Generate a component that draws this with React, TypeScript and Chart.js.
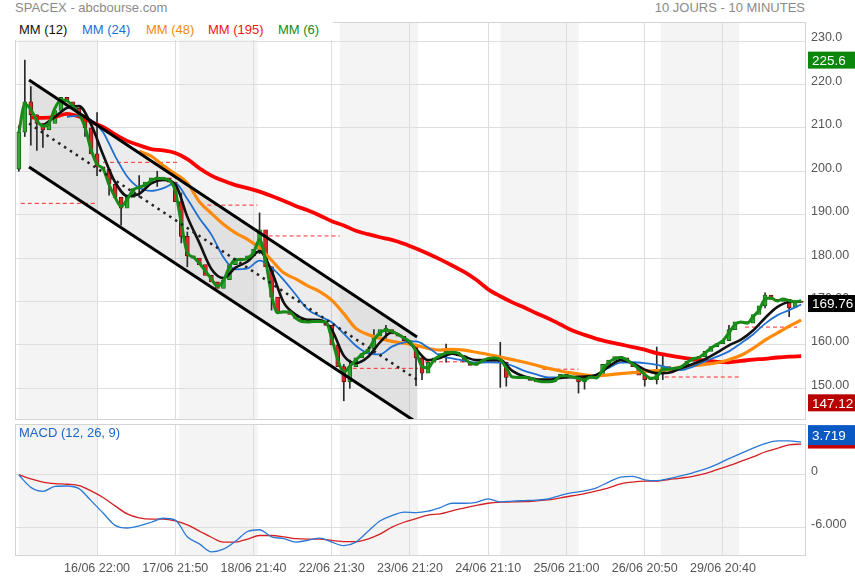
import React, { useEffect, useRef } from 'react';
import { Chart, registerables } from 'chart.js';

Chart.register(...registerables);

const FONT = '"Liberation Sans", Arial, sans-serif';

// x values are 10-minute bar indexes, 40 bars per session
const X_MIN = -1.9;
const X_MAX = 392.4;
const BARS_PER_SESSION = 40;
const SHADED_SESSIONS = [0, 2, 4, 6, 8];
const GRID_BARS = [39, 78, 117, 156, 195, 234, 273, 312, 351];
const GRID_LABELS = [
    '16/06 22:00', '17/06 21:50', '18/06 21:40', '22/06 21:30', '23/06 21:20',
    '24/06 21:10', '25/06 21:00', '26/06 20:50', '29/06 20:40',
];

const PRICE_MIN = 142.7;
const PRICE_MAX = 234.38;
const PRICE_TICKS = [150, 160, 170, 180, 190, 200, 210, 220, 230];
const MACD_MIN = -9.17;
const MACD_MAX = 5.77;
const MACD_TICKS = [-6, 0];

// candles, one every 3 bars
const CANDLE_STEP = 3;
const firstOpen = 200.5;
const closes = [
    209, 216, 213, 211, 209.5, 211, 214, 217, 216, 214.5,
    213, 210, 204, 201, 200.5, 197, 194, 191.5, 194, 196,
    196.5, 197.5, 198.5, 198.3, 198.5, 197.5, 193, 185, 180.5, 180,
    178.5, 176, 174.5, 173, 175, 178.5, 180, 179.5, 180.5, 182,
    186.5, 178, 171, 167.5, 167.5, 167, 166, 165.5, 165.3, 165.5,
    165.3, 164.5, 160, 155, 151.5, 155, 157, 158, 159, 162,
    163.5, 163.5, 162.5, 162, 161, 160, 157, 153.5, 156, 157,
    158, 158.5, 158.3, 157.5, 156, 155.3, 156, 156.5, 157, 157,
    156, 152.5, 152.5, 152.8, 152.3, 151.8, 151.5, 151.3, 151.5, 152.5,
    153.2, 152.6, 152.4, 151.5, 152.3, 152.6, 152.8, 155.5, 156.5, 157.3,
    157, 156, 155, 153, 152, 152, 153.5, 155, 154, 154.8,
    155, 156.2, 157, 157.3, 158.5, 159.6, 160.3, 161, 163.5, 165.3,
    165, 165, 167, 169, 171.5, 170.5, 170, 170.5, 168.5, 170,
    169.76,
];
// [candle, low, high]
const wicks: [number, number, number][] = [
    [0, 200, 210.5], [1, 208, 225.6], [2, 206, 219.5], [3, 204.8, 213], [4, 205.5, 211],
    [11, 208, 212], [13, 199, 213.5], [15, 194.5, 199], [17, 187.6, 193], [20, 194, 199],
    [23, 196.5, 200], [27, 183.5, 195], [28, 178, 186], [40, 181, 190.4], [42, 168, 178],
    [54, 147.12, 155.5], [55, 150, 156.5], [59, 158, 163.5], [61, 161, 164.5], [66, 150.6, 160],
    [67, 152, 157], [71, 156, 160.2], [80, 150.2, 160.6], [81, 150.5, 156], [93, 148.9, 152.5],
    [94, 149.8, 153], [104, 150.5, 153.5], [106, 151, 159.5], [107, 152, 157.5], [118, 161.5, 164.5],
    [124, 168.5, 172], [128, 166.5, 170.5],
];

// MM (6), one value per candle
const mm6 = [
    208.8, 215.5, 214.2, 211.7, 210.4, 211, 214.5, 216.4, 216.2, 215,
    213.2, 210.2, 205, 201.6, 200.6, 196.9, 194, 191.9, 193.5, 195.7,
    196.3, 196.8, 197.8, 198.4, 198.3, 197.9, 195.5, 188, 181.2, 180.2,
    178.8, 177, 175.2, 173.5, 174.8, 178, 179.7, 179.6, 180, 181.2,
    184.3, 179.5, 171.5, 167.4, 167.6, 167.6, 166.2, 165.4, 165.3, 165.4,
    165.4, 165.3, 161.5, 156.6, 153.7, 155.1, 156.5, 157.8, 158.7, 161.1,
    162.8, 163.4, 163.1, 162.4, 161.6, 160.6, 158.5, 155, 154.7, 156.6,
    157.5, 158.1, 158.3, 158.1, 157, 155.8, 155.6, 156.3, 156.9, 157,
    156.6, 154.7, 152.6, 152.5, 152.5, 152.3, 151.8, 151.5, 151.5, 151.7,
    152.8, 152.9, 152.6, 152.3, 151.9, 152.6, 152.4, 154.2, 155.9, 156.8,
    157.1, 156.6, 155.6, 154.5, 153.2, 152.3, 152.6, 154.4, 154.4, 154.6,
    154.9, 155.9, 156.8, 157.1, 158.1, 159.3, 160.1, 161, 162.8, 164.7,
    165.3, 165, 166.5, 168, 170.6, 170.8, 170.1, 170.6, 170.2, 169.9,
    170.2,
];

// other averages and MACD, one value every 6 bars
const MA_STEP = 6;
const mm12 = [
    null, null, 210.5, 212.5, 214.6, 215, 210.8, 203.8, 197.5, 194.3,
    194.8, 197.2, 198, 197, 189.5, 183.5, 177.5, 175.4, 177.8, 179.2,
    181.6, 177, 169.8, 167, 165.8, 165.7, 163.5, 157.5, 155.8, 157.2,
    160.6, 162.9, 161.6, 159, 156.5, 157, 158, 157.3, 156.5, 156.5,
    156.5, 154, 152.7, 152.1, 152, 152.4, 152.6, 152.7, 153.1, 155,
    156.5, 155.8, 154.3, 153.5, 153.6, 154.6, 155.6, 156.7, 158.2, 159.9,
    161.2, 163.3, 166.2, 168.7, 169.9, 170,
];
const mm24 = [
    null, null, null, null, 212.5, 212.8, 211.8, 209, 203.5, 198.8,
    196.2, 195.5, 196.1, 197.2, 193.6, 189.2, 185.4, 180.2, 177.4, 177.6,
    179.4, 177.8, 175, 171.6, 168.2, 166.6, 165.2, 162.6, 159.8, 158.1,
    157.8, 159.6, 160.6, 160.8, 159.4, 157.5, 156.9, 156.4, 155.9, 156,
    155.9, 155.2, 154, 153.2, 152.5, 152.5, 152.5, 152.5, 153.2, 154.7,
    155.9, 156, 155.8, 155.4, 154.7, 154.2, 155, 156.2, 157.3, 158.5,
    160.4, 162.4, 164.9, 166.8, 168, 169.3,
];
const mm48 = [
    null, null, null, null, null, null, null, null, null, null,
    204.6, 203.5, 201.3, 199.4, 197.3, 193, 190.3, 187.8, 185.8, 184.3,
    182.3, 179.5, 176.6, 175.2, 173.6, 172.3, 170.3, 167.2, 163.8, 162.4,
    161.5, 160.8, 160.4, 159.9, 159.2, 158.8, 159, 158.8, 158.3, 157.8,
    157.2, 156.6, 156, 155.3, 154.6, 154, 153.5, 153.1, 152.9, 153.1,
    153.4, 153.6, 153.9, 154.1, 154.3, 154.9, 155.2, 155.5, 155.9, 156.6,
    157.6, 159.2, 161.1, 162.7, 164.3, 165.7,
];
const mm195 = [
    null, 212.4, 212.3, 212.5, 213.2, 212.6, 211.4, 210.2, 208.5, 207,
    206, 205.1, 204.8, 204.2, 202.8, 200.7, 199, 197.8, 196.8, 196.1,
    195.3, 194.3, 193.2, 192, 191, 189.8, 188.5, 187.5, 186.3, 185.5,
    184.8, 184.2, 183.3, 182.2, 181, 179.7, 178.3, 176.8, 175, 172.8,
    171.2, 169.8, 168.6, 167.3, 166.1, 164.7, 163.3, 162.3, 161.4, 160.7,
    160.1, 159.5, 158.9, 158.1, 157.6, 157.1, 156.7, 156.4, 156.1, 156,
    156.3, 156.6, 156.8, 157.1, 157.3, 157.4,
];
const macd = [
    0, -1.4, -1.85, -1.3, -1.25, -1.55, -2.9, -4.3, -5.7, -6,
    -5.75, -5.35, -4.9, -5.1, -7, -7.8, -8.7, -8.4, -7.5, -6.4,
    -6.2, -7, -7.2, -7.6, -7.4, -7.15, -7.6, -8, -7.6, -6.4,
    -5.2, -4.6, -4.2, -4.25, -4.1, -3.7, -3.2, -3.2, -3.1, -2.7,
    -3.05, -2.95, -2.9, -2.85, -2.72, -2.3, -2, -1.8, -1.45, -0.8,
    -0.25, -0.15, -0.55, -0.65, -0.4, -0.1, 0.25, 0.65, 1.2, 1.85,
    2.45, 3.05, 3.55, 3.85, 3.85, 3.72,
];
const signal = [
    0.05, -0.45, -0.8, -0.97, -1.05, -1.2, -1.8, -2.55, -3.5, -4.4,
    -4.85, -5, -5, -5.2, -5.65, -6.35, -7.05, -7.6, -7.6, -7.25,
    -6.85, -6.85, -7, -7.2, -7.25, -7.25, -7.4, -7.55, -7.55, -7.25,
    -6.7, -5.9, -5.35, -4.95, -4.55, -4.4, -4.05, -3.75, -3.45, -3.2,
    -3.08, -3.05, -3.02, -2.93, -2.82, -2.6, -2.35, -2.1, -1.8, -1.45,
    -1, -0.8, -0.7, -0.7, -0.52, -0.35, -0.15, 0.15, 0.6, 1.05,
    1.55, 2.05, 2.6, 3, 3.4, 3.5,
];

// trend channel
const channelBars = [5.1, 198.5];
const channelUpper = [221.0, 161.8];
const channelLower = [201.0, 142.1];
const channelMid = [211.0, 152.0];

// dashed levels: [start bar, end bar, price]
const levels: [number, number, number][] = [
    [1, 39, 192.6], [42, 79, 202.05], [94, 119, 192.2], [121, 160, 185.1], [163, 199, 154.6],
    [199, 226, 156.1], [261, 279, 154.4], [322, 360, 152.6], [362, 388, 164.1],
];

const legendItems = [
    { text: 'MM (12)', color: '#111111', left: 4 },
    { text: 'MM (24)', color: '#1f6fd0', left: 67 },
    { text: 'MM (48)', color: '#f28a12', left: 131 },
    { text: 'MM (195)', color: '#f01414', left: 193 },
    { text: 'MM (6)', color: '#178a17', left: 263 },
];

const priceBadges = [
    { value: 225.6, text: '225.6', color: '#0b870b', dy: 0, h: 17 },
    { value: 169.76, text: '169.76', color: '#000000', dy: 1, h: 17 },
    { value: 147.12, text: '147.12', color: '#b80000', dy: 2, h: 17 },
];
const macdBadges = [
    { value: 3.5, text: '', color: '#c80000', dy: 2.5, h: 4 },
    { value: 3.719, text: '3.719', color: '#0a58c4', dy: -7, h: 20 },
];

const series = (vals: (number | null)[], step: number) =>
    vals.map((v, i) => (v === null ? null : { x: i * step, y: v })).filter(Boolean);

const sessionBands = {
    id: 'sessionBands',
    beforeDraw(chart: any) {
        const { ctx, chartArea: a, scales } = chart;
        const x = scales.x;
        ctx.save();
        ctx.fillStyle = '#f4f4f4';
        SHADED_SESSIONS.forEach((d) => {
            const x0 = Math.max(x.getPixelForValue(d * BARS_PER_SESSION), a.left);
            const x1 = Math.min(x.getPixelForValue(d * BARS_PER_SESSION + 39), a.right);
            ctx.fillRect(x0, a.top, x1 - x0, a.bottom - a.top);
        });
        ctx.restore();
    },
};

const frame = {
    id: 'frame',
    afterDraw(chart: any) {
        const { ctx, chartArea: a } = chart;
        ctx.save();
        ctx.strokeStyle = '#d4d4d4';
        ctx.lineWidth = 1;
        ctx.strokeRect(a.left + 0.5, a.top + 0.5, a.right - a.left - 1, a.bottom - a.top - 1);
        ctx.restore();
    },
};

const badges = (items: any[]) => ({
    id: 'badges',
    afterDraw(chart: any) {
        const { ctx, chartArea: a, scales } = chart;
        ctx.save();
        ctx.font = `13.5px ${FONT}`;
        ctx.textBaseline = 'middle';
        items.forEach((b) => {
            const py = scales.y.getPixelForValue(b.value) + b.dy;
            ctx.fillStyle = b.color;
            ctx.fillRect(a.right + 2, py - b.h / 2, chart.width - a.right - 2, b.h);
            if (b.text) {
                ctx.fillStyle = '#ffffff';
                ctx.fillText(b.text, a.right + 6, py + 1);
            }
        });
        ctx.restore();
    },
});

const xScale = (showLabels: boolean) => ({
    type: 'linear',
    min: X_MIN,
    max: X_MAX,
    offset: false,
    grid: { color: '#dedede', drawTicks: false, offset: false },
    border: { display: false },
    ticks: {
        display: showLabels,
        autoSkip: false,
        maxRotation: 0,
        padding: 5,
        color: '#555555',
        font: { family: FONT, size: 12.5 },
        callback: (_v: any, i: number) => GRID_LABELS[i],
    },
    afterBuildTicks: (axis: any) => {
        axis.ticks = GRID_BARS.map((value) => ({ value }));
    },
    afterFit: (axis: any) => {
        axis.height = showLabels ? 24 : 0;
        axis.paddingLeft = 0;
        axis.paddingRight = 0;
    },
});

const yScale = (min: number, max: number, ticks: number[], fmt: (v: number) => string) => ({
    position: 'right',
    min,
    max,
    grid: { color: '#dedede', drawTicks: false },
    border: { display: false },
    ticks: {
        padding: 5,
        labelOffset: -3,
        color: '#555555',
        font: { family: FONT, size: 12.5 },
        callback: (v: any) => fmt(Number(v)),
    },
    afterBuildTicks: (axis: any) => {
        axis.ticks = ticks.map((value) => ({ value }));
    },
    afterFit: (axis: any) => {
        axis.width = 49;
        axis.paddingTop = 0;
        axis.paddingBottom = 0;
    },
});

const line = (label: string, data: any[], color: string, width: number, order: number) => ({
    type: 'line',
    label,
    data,
    borderColor: color,
    borderWidth: width,
    pointRadius: 0,
    fill: false,
    cubicInterpolationMode: 'monotone',
    borderJoinStyle: 'round',
    order,
});

export default function App() {
    const priceRef = useRef<HTMLCanvasElement | null>(null);
    const macdRef = useRef<HTMLCanvasElement | null>(null);

    useEffect(() => {
        if (!priceRef.current || !macdRef.current) return;

        const opens = closes.map((c, k) => (k === 0 ? firstOpen : closes[k - 1]));
        const rising = closes.map((c, k) => c >= opens[k]);
        const seg = (bars: number[], vals: number[]) => bars.map((x, i) => ({ x, y: vals[i] }));

        const datasets: any[] = [
            {
                ...line('channel high', seg(channelBars, channelUpper), '#000000', 3, 0),
                fill: '+1',
                backgroundColor: 'rgba(0,0,0,0.075)',
                cubicInterpolationMode: 'default',
            },
            { ...line('channel low', seg(channelBars, channelLower), '#000000', 3, 0), cubicInterpolationMode: 'default' },
            {
                ...line('channel mid', seg(channelBars, channelMid), '#222222', 2.5, 0),
                borderDash: [2.5, 4.5],
                cubicInterpolationMode: 'default',
            },
            line('MM (6)', series(mm6, CANDLE_STEP), '#178a17', 3, 1),
            line('MM (12)', series(mm12, MA_STEP), '#111111', 2.6, 2),
            line('MM (24)', series(mm24, MA_STEP), '#1f6fd0', 1.8, 3),
            line('MM (48)', series(mm48, MA_STEP), '#ff8a0a', 3.2, 4),
            line('MM (195)', series(mm195, MA_STEP), '#ff0000', 3.8, 5),
            {
                type: 'bar',
                label: 'candles',
                data: closes.map((c, k) => ({ x: k * CANDLE_STEP, y: [opens[k], c] })),
                backgroundColor: rising.map((r) => (r ? '#2fa52f' : '#dc2626')),
                borderColor: rising.map((r) => (r ? '#0d5a0d' : '#5a0a0a')),
                borderWidth: 0.8,
                borderSkipped: false,
                barThickness: 4,
                minBarLength: 1.5,
                grouped: false,
                order: 6,
            },
            {
                type: 'bar',
                label: 'wicks',
                data: wicks.map(([k, lo, hi]) => ({ x: k * CANDLE_STEP, y: [lo, hi] })),
                backgroundColor: '#2a2a2a',
                barThickness: 1,
                grouped: false,
                borderWidth: 0,
                order: 7,
            },
            ...levels.map(([b0, b1, v], i) => ({
                ...line('level ' + i, [{ x: b0, y: v }, { x: b1, y: v }], '#ff2a2a', 1, 8),
                borderDash: [4, 3],
                cubicInterpolationMode: 'default',
            })),
        ];

        const priceChart = new Chart(priceRef.current, {
            type: 'line',
            data: { datasets },
            options: {
                animation: false,
                responsive: false,
                layout: { padding: { left: 15, top: 22, bottom: 2, right: 0 } },
                plugins: {
                    legend: { display: false },
                    tooltip: { enabled: false },
                    filler: { drawTime: 'beforeDatasetsDraw' },
                },
                scales: {
                    x: xScale(false),
                    y: yScale(PRICE_MIN, PRICE_MAX, PRICE_TICKS, (v) => (v >= 200 ? v.toFixed(1) : v.toFixed(2))),
                },
            } as any,
            plugins: [sessionBands, frame, badges(priceBadges)],
        } as any);

        const macdChart = new Chart(macdRef.current, {
            type: 'line',
            data: {
                datasets: [
                    line('MACD', series(macd, MA_STEP), '#2a78d6', 1.3, 0),
                    line('Signal', series(signal, MA_STEP), '#d42020', 1.3, 1),
                ],
            },
            options: {
                animation: false,
                responsive: false,
                layout: { padding: { left: 15, top: 2, bottom: 0, right: 0 } },
                plugins: { legend: { display: false }, tooltip: { enabled: false } },
                scales: {
                    x: xScale(true),
                    y: yScale(MACD_MIN, MACD_MAX, MACD_TICKS, (v) => (v === 0 ? '0' : v.toFixed(3))),
                },
            } as any,
            plugins: [sessionBands, frame, badges(macdBadges)],
        } as any);

        return () => {
            priceChart.destroy();
            macdChart.destroy();
        };
    }, []);

    return (
        <div style={{ position: 'absolute', left: 0, top: 0, width: 855, height: 580, background: '#fff', fontFamily: FONT }}>
            <div style={{ position: 'absolute', left: 15, top: 0, fontSize: 13, lineHeight: '16px', color: '#8a8a8a' }}>
                SPACEX - abcbourse.com
            </div>
            <div style={{ position: 'absolute', right: 50, top: 0, fontSize: 13, lineHeight: '16px', color: '#8a8a8a' }}>
                10 JOURS - 10 MINUTES
            </div>
            <canvas ref={priceRef} width={855} height={422} style={{ position: 'absolute', left: 0, top: 0 }} />
            <canvas ref={macdRef} width={855} height={158} style={{ position: 'absolute', left: 0, top: 422 }} />
            <div style={{ position: 'absolute', left: 15, top: 22, width: 318, height: 18, background: '#fff', fontSize: 13, lineHeight: '16px' }}>
                {legendItems.map((it) => (
                    <span key={it.text} style={{ position: 'absolute', left: it.left, top: 0, color: it.color, whiteSpace: 'nowrap' }}>
                        {it.text}
                    </span>
                ))}
            </div>
            <div style={{ position: 'absolute', left: 19, top: 425, fontSize: 13, lineHeight: '16px', color: '#1a66c8' }}>
                MACD (12, 26, 9)
            </div>
        </div>
    );
}
